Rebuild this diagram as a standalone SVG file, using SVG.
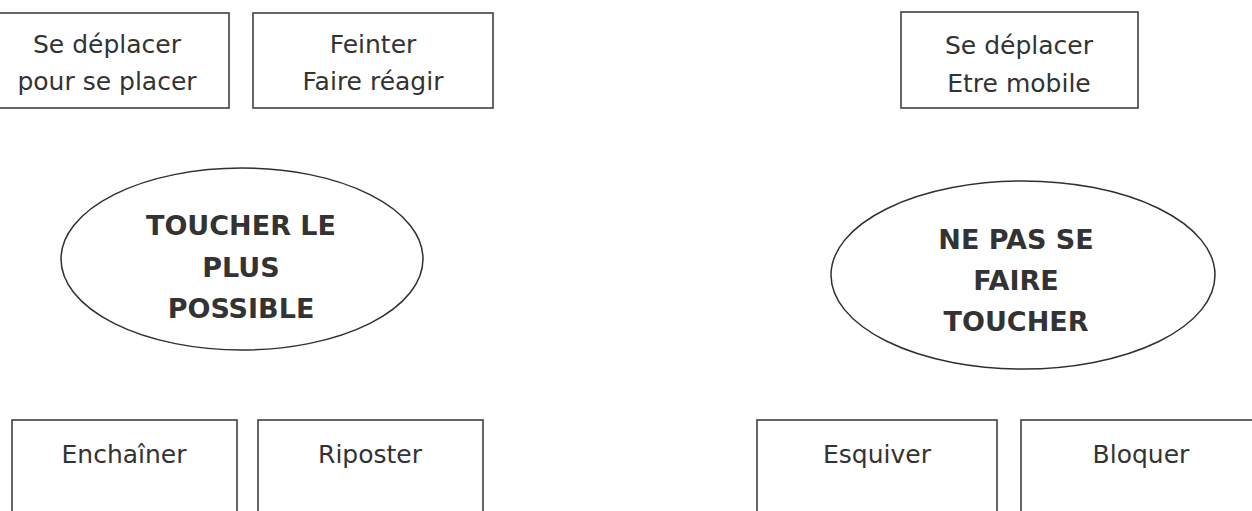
<svg xmlns="http://www.w3.org/2000/svg" width="1252" height="511" viewBox="0 0 1252 511">
  <style>
    .box { fill: #ffffff; stroke: #404040; stroke-width: 1.6; }
    .ell { fill: #ffffff; stroke: #303030; stroke-width: 1.5; }
    .t { font-family: "DejaVu Sans", "Liberation Sans", sans-serif; font-size: 25px; fill: #333333; text-anchor: middle; }
    .b { font-family: "DejaVu Sans", "Liberation Sans", sans-serif; font-size: 27px; font-weight: bold; fill: #333333; text-anchor: middle; }
  </style>
  <rect width="1252" height="511" fill="#ffffff"/>
  <g id="connectors"></g>
  <g id="n-se-deplacer-placer">
    <rect class="box" x="-5" y="13" width="234" height="95"/>
    <text class="t" x="107" y="53">Se déplacer</text>
    <text class="t" x="107" y="90">pour se placer</text>
  </g>
  <g id="n-feinter">
    <rect class="box" x="253" y="13" width="240" height="95"/>
    <text class="t" x="373" y="53">Feinter</text>
    <text class="t" x="373" y="90">Faire réagir</text>
  </g>
  <g id="n-se-deplacer-mobile">
    <rect class="box" x="901" y="12" width="237" height="96"/>
    <text class="t" x="1019" y="54">Se déplacer</text>
    <text class="t" x="1019" y="92">Etre mobile</text>
  </g>
  <g id="n-toucher">
    <ellipse class="ell" cx="242" cy="259" rx="181" ry="91"/>
    <text class="b" x="241" y="235">TOUCHER LE</text>
    <text class="b" x="241" y="277">PLUS</text>
    <text class="b" x="241" y="318">POSSIBLE</text>
  </g>
  <g id="n-ne-pas">
    <ellipse class="ell" cx="1023" cy="275" rx="192" ry="94"/>
    <text class="b" x="1016" y="249">NE PAS SE</text>
    <text class="b" x="1016" y="290">FAIRE</text>
    <text class="b" x="1016" y="331">TOUCHER</text>
  </g>
  <g id="n-enchainer">
    <rect class="box" x="12" y="420" width="225" height="100"/>
    <text class="t" x="124" y="463">Enchaîner</text>
  </g>
  <g id="n-riposter">
    <rect class="box" x="258" y="420" width="225" height="100"/>
    <text class="t" x="370" y="463">Riposter</text>
  </g>
  <g id="n-esquiver">
    <rect class="box" x="757" y="420" width="240" height="100"/>
    <text class="t" x="877" y="463">Esquiver</text>
  </g>
  <g id="n-bloquer">
    <rect class="box" x="1021" y="420" width="240" height="100"/>
    <text class="t" x="1141" y="463">Bloquer</text>
  </g>
</svg>
